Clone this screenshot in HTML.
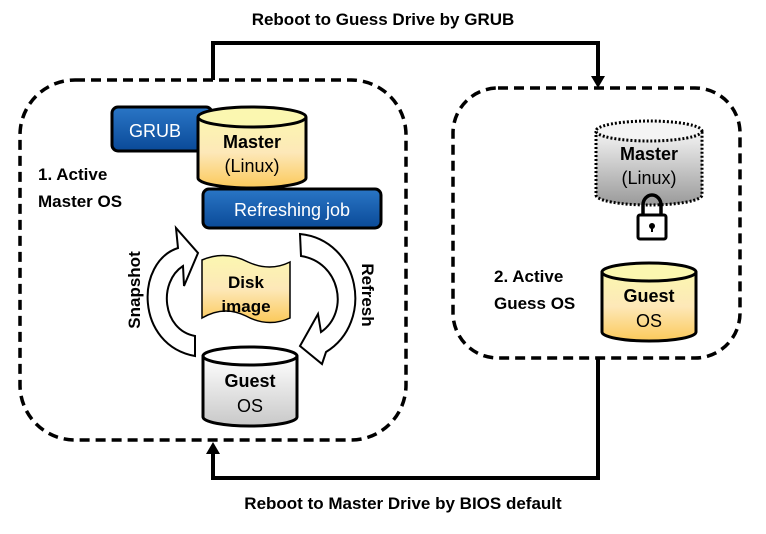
<!DOCTYPE html>
<html><head><meta charset="utf-8"><style>
body{margin:0;background:#fff}
text{font-family:"Liberation Sans","DejaVu Sans",sans-serif}
</style></head><body>
<svg width="766" height="529" viewBox="0 0 766 529" xmlns="http://www.w3.org/2000/svg">
<defs>
<linearGradient id="yel" x1="0" y1="0" x2="0" y2="1"><stop offset="0" stop-color="#fbf7b0"/><stop offset="0.5" stop-color="#fde8b8"/><stop offset="1" stop-color="#fbc95a"/></linearGradient>
<linearGradient id="gry" x1="0" y1="0" x2="0" y2="1"><stop offset="0" stop-color="#f4f4f4"/><stop offset="1" stop-color="#9a9a9a"/></linearGradient>
<linearGradient id="wht" x1="0" y1="0" x2="0" y2="1"><stop offset="0" stop-color="#fff"/><stop offset="1" stop-color="#c8c8c8"/></linearGradient>
<linearGradient id="blu" x1="0" y1="0" x2="0" y2="1"><stop offset="0" stop-color="#2a76c6"/><stop offset="1" stop-color="#0a4a98"/></linearGradient>
</defs>
<text x="383" y="25" font-size="17" font-weight="bold" text-anchor="middle">Reboot to Guess Drive by GRUB</text>
<text x="403" y="509" font-size="17" font-weight="bold" text-anchor="middle">Reboot to Master Drive by BIOS default</text>
<polyline points="213,80 213,43 598,43 598,78" fill="none" stroke="#000" stroke-width="4"/>
<polygon points="591,76 605,76 598,88" fill="#000"/>
<polyline points="598,358 598,478 213,478 213,452" fill="none" stroke="#000" stroke-width="4"/>
<polygon points="206,454 220,454 213,442" fill="#000"/>
<rect x="20" y="80" width="386" height="360" rx="55" fill="none" stroke="#000" stroke-width="3.5" stroke-dasharray="10,6"/>
<rect x="453" y="88" width="287" height="270" rx="45" fill="none" stroke="#000" stroke-width="3.5" stroke-dasharray="10,6"/>
<rect x="112" y="107" width="100" height="44" rx="6" fill="url(#blu)" stroke="#000" stroke-width="3"/>
<text x="155" y="137" font-size="18" fill="#fff" text-anchor="middle">GRUB</text>
<path d="M198,117 V178 A54,10 0 0 0 306,178 V117" fill="url(#yel)" stroke="#000" stroke-width="3"/>
<ellipse cx="252" cy="117" rx="54" ry="10" fill="#fbf7b0" stroke="#000" stroke-width="3"/>
<text x="252" y="148" font-size="18" font-weight="bold" text-anchor="middle">Master</text>
<text x="252" y="172" font-size="18" text-anchor="middle">(Linux)</text>
<rect x="203" y="189" width="178" height="39" rx="6" fill="url(#blu)" stroke="#000" stroke-width="3"/>
<text x="292" y="216" font-size="18" fill="#fff" text-anchor="middle">Refreshing job</text>
<text x="38" y="180" font-size="17" font-weight="bold">1.   Active</text>
<text x="38" y="207" font-size="17" font-weight="bold">Master OS</text>
<path d="M195,356 C135,345 135,262 178,248 L176,228 L198,253 L184,286 L183,266 C158,282 162,330 195,336 Z" fill="#fff" stroke="#000" stroke-width="2"/>
<path d="M300,234 C360,240 375,322 326,352 L322,364 L300,346 L318,314 L321,332 C350,312 340,262 301,256 Z" fill="#fff" stroke="#000" stroke-width="2"/>
<text transform="translate(140,290) rotate(-90)" font-size="17" font-weight="bold" text-anchor="middle">Snapshot</text>
<text transform="translate(362,295) rotate(90)" font-size="17" font-weight="bold" text-anchor="middle">Refresh</text>
<path d="M202,260 Q225,250 248,262 Q270,272 290,262 V318 Q268,328 246,316 Q224,305 202,318 Z" fill="url(#yel)" stroke="#000" stroke-width="1.5"/>
<text x="246" y="288" font-size="17" font-weight="bold" text-anchor="middle">Disk</text>
<text x="246" y="312" font-size="17" font-weight="bold" text-anchor="middle">image</text>
<path d="M203,356 V417 A47,9 0 0 0 297,417 V356" fill="url(#wht)" stroke="#000" stroke-width="3"/>
<ellipse cx="250" cy="356" rx="47" ry="9" fill="#fff" stroke="#000" stroke-width="3"/>
<text x="250" y="387" font-size="18" font-weight="bold" text-anchor="middle">Guest</text>
<text x="250" y="412" font-size="18" text-anchor="middle">OS</text>
<path d="M596,131 V195 A53,10 0 0 0 702,195 V131" fill="url(#gry)" stroke="#000" stroke-width="3" stroke-dasharray="2,2"/>
<ellipse cx="649" cy="131" rx="53" ry="10" fill="#f4f4f4" stroke="#000" stroke-width="3" stroke-dasharray="2,2"/>
<text x="649" y="160" font-size="18" font-weight="bold" text-anchor="middle">Master</text>
<text x="649" y="184" font-size="18" text-anchor="middle">(Linux)</text>
<path d="M643,215 V205 A9,10 0 0 1 661,205 V215" fill="none" stroke="#000" stroke-width="3.5"/>
<rect x="638" y="215" width="28" height="24" rx="2" fill="#fff" stroke="#000" stroke-width="3"/>
<circle cx="652" cy="226" r="3" fill="#000"/><rect x="651" y="226" width="2" height="6" fill="#000"/>
<text x="494" y="282" font-size="17" font-weight="bold">2. Active</text>
<text x="494" y="309" font-size="17" font-weight="bold">Guess OS</text>
<path d="M602,272 V332 A47,9 0 0 0 696,332 V272" fill="url(#yel)" stroke="#000" stroke-width="3"/>
<ellipse cx="649" cy="272" rx="47" ry="9" fill="#fbf7b0" stroke="#000" stroke-width="3"/>
<text x="649" y="302" font-size="18" font-weight="bold" text-anchor="middle">Guest</text>
<text x="649" y="327" font-size="18" text-anchor="middle">OS</text>
</svg>
</body></html>
